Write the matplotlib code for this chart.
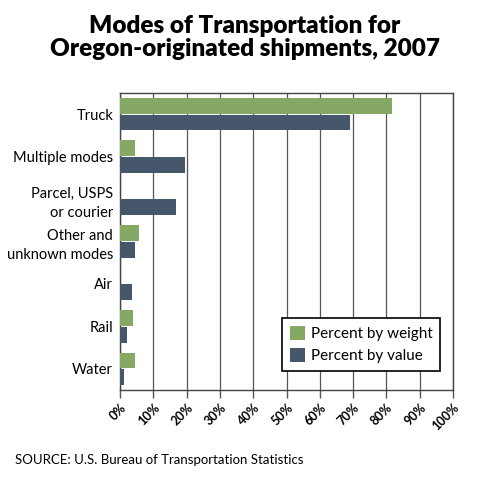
import numpy as np
import matplotlib
matplotlib.use("Agg")
import matplotlib.pyplot as plt

categories = ["Truck", "Multiple modes", "Parcel, USPS\nor courier",
              "Other and\nunknown modes", "Air", "Rail", "Water"]
pct_weight = [81.8, 4.4, 0.0, 5.7, 0.0, 3.8, 4.5]
pct_value = [69.2, 19.4, 16.8, 4.6, 3.5, 2.2, 1.2]
xticks = list(range(0, 101, 10))

GREEN = "#86a865"
SLATE = "#46576b"

plt.rcParams["font.family"] = ["Lato", "DejaVu Sans"]

fig = plt.figure(figsize=(5.0, 4.84), dpi=100)
ax = fig.add_axes([0.24, 0.194, 0.666, 0.614])

y = np.arange(len(categories))
h = 0.37
ax.barh(y - h / 2 - 0.01, pct_weight, height=h, color=GREEN, label="Percent by weight", zorder=3)
ax.barh(y + h / 2 + 0.01, pct_value, height=h, color=SLATE, label="Percent by value", zorder=3)

ax.set_xlim(0, 100)
ax.set_ylim(len(categories) - 0.5, -0.5)
ax.set_yticks(y)
ax.set_yticklabels(categories, fontsize=10.5, ha="right", multialignment="right",
                   linespacing=1.45)
ax.tick_params(axis="y", length=0, pad=5)
ax.set_xticks(xticks)
ax.set_xticklabels([f"{t}%" for t in xticks], rotation=45, ha="right",
                   rotation_mode="anchor", fontsize=9, fontweight="bold")
ax.tick_params(axis="x", length=6, width=1, color="#555555", pad=2)
ax.grid(axis="x", color="#555555", lw=0.9, zorder=0)
for s in ax.spines.values():
    s.set_color("#444444")
    s.set_linewidth(1)

leg = ax.legend(loc="lower right", fontsize=11, frameon=True, fancybox=False,
                handlelength=1.0, handleheight=1.0, handletextpad=0.4,
                borderpad=0.5, labelspacing=0.45, bbox_to_anchor=(0.985, 0.04))
leg.get_frame().set_edgecolor("black")
leg.get_frame().set_linewidth(1.2)
leg.get_frame().set_alpha(1)

fig.text(0.49, 0.97, "Modes of Transportation for\nOregon-originated shipments, 2007",
         ha="center", va="top", fontsize=17.5, fontweight="heavy", linespacing=1.1)
fig.text(0.03, 0.05, "SOURCE: U.S. Bureau of Transportation Statistics",
         ha="left", va="center", fontsize=9.5)

fig.savefig("out.png", dpi=100)
